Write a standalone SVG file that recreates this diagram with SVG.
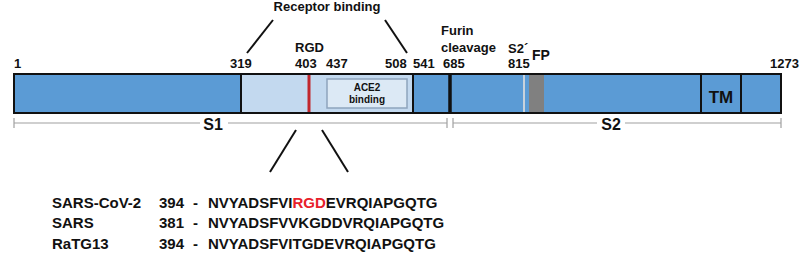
<svg xmlns="http://www.w3.org/2000/svg" width="800" height="269" viewBox="0 0 800 269">
<style>
text{font-family:"Liberation Sans",Arial,sans-serif;font-weight:bold;fill:#111}
.n{font-size:13px}
.seq{font-size:15px}
.ln{stroke:#111;stroke-width:2;fill:none}
.br{stroke:#a0a0a0;stroke-width:1.2;fill:none}
</style>
<rect width="800" height="269" fill="#fff"/>
<g id="protein">
<rect x="14" y="74" width="767" height="39" fill="#5b9bd5" stroke="#111" stroke-width="2"/>
<rect x="241" y="75" width="172" height="37" fill="#c3d9ef"/>
<line x1="241" y1="74" x2="241" y2="113" stroke="#111" stroke-width="2"/>
<line x1="413" y1="74" x2="413" y2="113" stroke="#111" stroke-width="2"/>
<line x1="450" y1="74" x2="450" y2="113" stroke="#111" stroke-width="3.5"/>
<line x1="309" y1="75" x2="309" y2="112" stroke="#c1272d" stroke-width="3"/>
<rect x="523" y="75" width="2" height="37" fill="#c8d2dc"/>
<rect x="529" y="75" width="15" height="37" fill="#808080"/>
<line x1="701" y1="74" x2="701" y2="113" stroke="#111" stroke-width="2"/>
<line x1="741" y1="74" x2="741" y2="113" stroke="#111" stroke-width="2"/>
<text x="721" y="103" text-anchor="middle" font-size="17" fill="#1e2a40">TM</text>
</g>
<g id="ace2">
<rect x="327" y="79" width="80" height="29" fill="#dce9f5" stroke="#8ea4bd" stroke-width="1.5"/>
<text x="367" y="91" text-anchor="middle" font-size="10">ACE2</text>
<text x="367" y="103" text-anchor="middle" font-size="10">binding</text>
</g>
<g id="labels">
<text class="n" x="14" y="68">1</text>
<text class="n" x="230" y="68">319</text>
<text class="n" x="295" y="52">RGD</text>
<text class="n" x="295" y="68">403</text>
<text class="n" x="326" y="68">437</text>
<text class="n" x="385" y="68">508</text>
<text class="n" x="413" y="68">541</text>
<text class="n" x="443" y="68">685</text>
<text class="n" x="441" y="35">Furin</text>
<text class="n" x="441" y="52">cleavage</text>
<text class="n" x="508" y="53">S2´</text>
<text class="n" x="508" y="68">815</text>
<text x="532" y="60" font-size="14">FP</text>
<text class="n" x="770" y="68">1273</text>
<text class="n" x="327" y="11" text-anchor="middle">Receptor binding</text>
</g>
<g id="connectors">
<line class="ln" x1="273" y1="20" x2="247" y2="53"/>
<line class="ln" x1="385" y1="20" x2="407" y2="53"/>
<line class="ln" x1="296" y1="130" x2="270" y2="172"/>
<line class="ln" x1="322" y1="130" x2="348" y2="172"/>
</g>
<g id="domains">
<line class="br" x1="14" y1="123" x2="200" y2="123"/>
<line class="br" x1="228" y1="123" x2="447" y2="123"/>
<line class="br" x1="14" y1="118" x2="14" y2="128"/>
<line class="br" x1="447" y1="118" x2="447" y2="128"/>
<line class="br" x1="453" y1="118" x2="453" y2="128"/>
<line class="br" x1="453" y1="123" x2="597" y2="123"/>
<line class="br" x1="625" y1="123" x2="781" y2="123"/>
<line class="br" x1="781" y1="118" x2="781" y2="128"/>
<text x="213" y="130" text-anchor="middle" font-size="16">S1</text>
<text x="611" y="130" text-anchor="middle" font-size="16">S2</text>
</g>
<g id="alignment">
<text class="seq" x="52" y="208">SARS-CoV-2</text>
<text class="seq" x="159" y="208">394</text>
<text class="seq" x="193" y="208">-</text>
<text class="seq" x="208" y="208">NVYADSFVI<tspan fill="#e8202a">RGD</tspan>EVRQIAPGQTG</text>
<text class="seq" x="52" y="228">SARS</text>
<text class="seq" x="159" y="228">381</text>
<text class="seq" x="193" y="228">-</text>
<text class="seq" x="208" y="228">NVYADSFVVKGDDVRQIAPGQTG</text>
<text class="seq" x="52" y="249">RaTG13</text>
<text class="seq" x="159" y="249">394</text>
<text class="seq" x="193" y="249">-</text>
<text class="seq" x="208" y="249">NVYADSFVITGDEVRQIAPGQTG</text>
</g>
</svg>
